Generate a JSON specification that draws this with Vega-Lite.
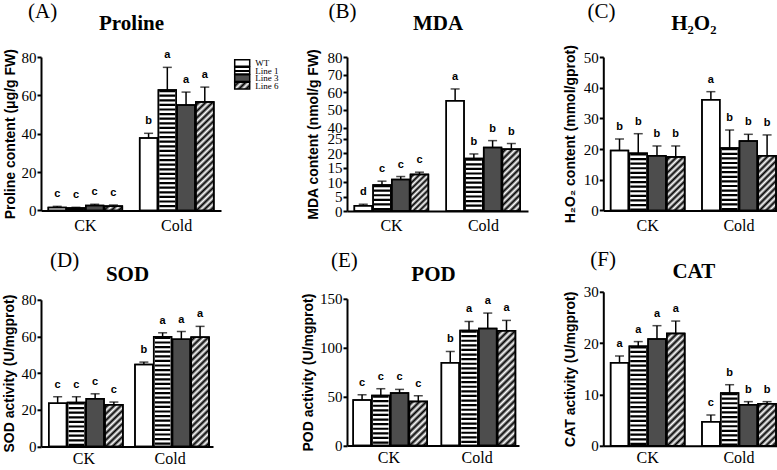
{
"$schema": "https://vega.github.io/schema/vega-lite/v6.json",
"background": "white",
"padding": {"left": 1, "top": 1, "right": 0, "bottom": 0},
"datasets": {"d": [
{"panel":"A","group":"CK","line":"WT","value":1.5,"hi":2.1,"letter":"c"},
{"panel":"A","group":"CK","line":"Line 1","value":1.2,"hi":1.6,"letter":"c"},
{"panel":"A","group":"CK","line":"Line 3","value":2.5,"hi":3.2,"letter":"c"},
{"panel":"A","group":"CK","line":"Line 6","value":2.1,"hi":2.8,"letter":"c"},
{"panel":"A","group":"Cold","line":"WT","value":37.7,"hi":40.2,"letter":"b"},
{"panel":"A","group":"Cold","line":"Line 1","value":62.8,"hi":74.6,"letter":"a"},
{"panel":"A","group":"Cold","line":"Line 3","value":55.0,"hi":61.7,"letter":"a"},
{"panel":"A","group":"Cold","line":"Line 6","value":56.5,"hi":64.3,"letter":"a"},
{"panel":"B","group":"CK","line":"WT","value":1.8,"hi":2.3,"letter":"d"},
{"panel":"B","group":"CK","line":"Line 1","value":9.0,"hi":10.3,"letter":"c"},
{"panel":"B","group":"CK","line":"Line 3","value":10.9,"hi":11.9,"letter":"c"},
{"panel":"B","group":"CK","line":"Line 6","value":12.6,"hi":13.4,"letter":"c"},
{"panel":"B","group":"Cold","line":"WT","value":55.2,"hi":61.9,"letter":"a"},
{"panel":"B","group":"Cold","line":"Line 1","value":18.1,"hi":19.7,"letter":"b"},
{"panel":"B","group":"Cold","line":"Line 3","value":21.9,"hi":24.3,"letter":"b"},
{"panel":"B","group":"Cold","line":"Line 6","value":21.3,"hi":23.3,"letter":"b"},
{"panel":"C","group":"CK","line":"WT","value":19.5,"hi":23.3,"letter":"b"},
{"panel":"C","group":"CK","line":"Line 1","value":18.6,"hi":25.0,"letter":"b"},
{"panel":"C","group":"CK","line":"Line 3","value":17.8,"hi":21.0,"letter":"b"},
{"panel":"C","group":"CK","line":"Line 6","value":17.4,"hi":21.0,"letter":"b"},
{"panel":"C","group":"Cold","line":"WT","value":36.1,"hi":38.7,"letter":"a"},
{"panel":"C","group":"Cold","line":"Line 1","value":20.3,"hi":26.2,"letter":"b"},
{"panel":"C","group":"Cold","line":"Line 3","value":22.6,"hi":24.8,"letter":"b"},
{"panel":"C","group":"Cold","line":"Line 6","value":17.8,"hi":24.6,"letter":"b"},
{"panel":"D","group":"CK","line":"WT","value":23.5,"hi":27.1,"letter":"c"},
{"panel":"D","group":"CK","line":"Line 1","value":24.0,"hi":27.1,"letter":"c"},
{"panel":"D","group":"CK","line":"Line 3","value":26.0,"hi":28.7,"letter":"c"},
{"panel":"D","group":"CK","line":"Line 6","value":22.7,"hi":24.2,"letter":"c"},
{"panel":"D","group":"Cold","line":"WT","value":44.7,"hi":46.0,"letter":"b"},
{"panel":"D","group":"Cold","line":"Line 1","value":59.8,"hi":62.0,"letter":"a"},
{"panel":"D","group":"Cold","line":"Line 3","value":58.5,"hi":62.7,"letter":"a"},
{"panel":"D","group":"Cold","line":"Line 6","value":59.5,"hi":65.5,"letter":"a"},
{"panel":"E","group":"CK","line":"WT","value":46.4,"hi":51.8,"letter":"c"},
{"panel":"E","group":"CK","line":"Line 1","value":51.1,"hi":58.0,"letter":"c"},
{"panel":"E","group":"CK","line":"Line 3","value":53.5,"hi":57.3,"letter":"c"},
{"panel":"E","group":"CK","line":"Line 6","value":45.0,"hi":50.8,"letter":"c"},
{"panel":"E","group":"Cold","line":"WT","value":84.6,"hi":96.1,"letter":"b"},
{"panel":"E","group":"Cold","line":"Line 1","value":117.6,"hi":126.8,"letter":"a"},
{"panel":"E","group":"Cold","line":"Line 3","value":119.7,"hi":135.4,"letter":"a"},
{"panel":"E","group":"Cold","line":"Line 6","value":117.3,"hi":127.9,"letter":"a"},
{"panel":"F","group":"CK","line":"WT","value":16.2,"hi":17.5,"letter":"a"},
{"panel":"F","group":"CK","line":"Line 1","value":19.4,"hi":20.3,"letter":"a"},
{"panel":"F","group":"CK","line":"Line 3","value":20.8,"hi":23.4,"letter":"a"},
{"panel":"F","group":"CK","line":"Line 6","value":21.9,"hi":24.3,"letter":"a"},
{"panel":"F","group":"Cold","line":"WT","value":4.7,"hi":6.0,"letter":"c"},
{"panel":"F","group":"Cold","line":"Line 1","value":10.3,"hi":11.9,"letter":"b"},
{"panel":"F","group":"Cold","line":"Line 3","value":8.0,"hi":8.6,"letter":"b"},
{"panel":"F","group":"Cold","line":"Line 6","value":8.2,"hi":8.6,"letter":"b"}
]},
"data": {"name": "d"},
"config": {
  "view": {"stroke": null},
  "title": {"anchor": "start", "frame": "group", "font": "Liberation Serif", "fontSize": 21, "fontWeight": "normal", "color": "black"},
  "axis": {"grid": false, "domainColor": "black", "domainWidth": 2, "tickColor": "black", "tickWidth": 2, "labelColor": "black", "titleColor": "black", "labelFont": "Liberation Serif"}
},
"spacing": 34.3,
"hconcat": [
{"spacing": 23, "hconcat": [
 {"spacing": 14.8, "vconcat": [
  {"spacing": 12.7, "hconcat": [
   {"width": 180, "height": 153.4,
    "title": {"text": "(A)", "dx": -13, "offset": -9.6},
    "transform": [{"filter": "datum.panel === 'A'"}],
    "resolve": {"axis": {"x": "independent", "y": "independent"}},
    "layer": [
     {"mark": {"type": "bar", "stroke": "black", "strokeWidth": 1.5},
      "encoding": {
       "x": {"field": "group", "type": "nominal", "title": null, "scale": {"domain": ["CK","Cold"], "paddingInner": 0.19, "paddingOuter": 0.08}, "axis": {"orient": "bottom", "domain": true, "domainColor": "black", "domainWidth": 2, "ticks": false, "tickSize": 0, "labelAngle": 0, "labelPadding": 6.7, "labelFont": "Liberation Serif", "labelFontSize": 16, "labelColor": "black"}},
       "xOffset": {"field": "line", "type": "nominal", "scale": {"domain": ["WT","Line 1","Line 3","Line 6"], "paddingInner": 0.05, "paddingOuter": 0}},
       "y": {"field": "value", "type": "quantitative", "scale": {"domain": [0, 80], "nice": false, "zero": false}, "axis": {"orient": "left", "title": "Proline content (μg/g FW)", "values": [0,20,40,60,80], "titlePadding": 2, "minExtent": 22, "maxExtent": 22, "titleFont": "Liberation Sans", "titleFontSize": 14, "titleFontWeight": "bold", "titleColor": "black", "labelFont": "Liberation Serif", "labelFontSize": 15, "labelColor": "black", "labelPadding": 1, "labelOverlap": false, "tickSize": 4, "tickWidth": 2, "tickColor": "black", "domain": true, "domainColor": "black", "domainWidth": 2, "grid": false}},
       "fill": {"field": "line", "type": "nominal", "scale": {"domain": ["WT","Line 1","Line 3","Line 6"], "range": ["#ffffff","#ffffff","#4d4d4d","#ffffff"]}, "legend": null}
      }},
     {"transform": [{"filter": "datum.line === 'Line 1'"}],
      "mark": {"type": "rule", "strokeWidth": 16, "strokeDash": [2.2, 2.4], "strokeCap": "butt", "color": "black"},
      "encoding": {"x": {"field": "group", "type": "nominal", "axis": null}, "xOffset": {"field": "line", "type": "nominal"}, "y": {"field": "value", "type": "quantitative", "axis": null}, "y2": {"datum": 0}}},
     {"transform": [{"filter": "datum.line === 'Line 6'"}],
      "mark": {"type": "bar", "stroke": "black", "strokeWidth": 1.5},
      "encoding": {"x": {"field": "group", "type": "nominal", "axis": null}, "xOffset": {"field": "line", "type": "nominal"}, "y": {"field": "value", "type": "quantitative", "axis": null},
       "fill": {"condition": {"test": "datum.group === 'CK'", "value": {"gradient": "linear", "x1": 0, "y1": 0, "x2": 1.17, "y2": 0.27, "stops": [{"offset":0,"color":"#fff"},{"offset":0.167,"color":"#000"},{"offset":0.333,"color":"#fff"},{"offset":0.5,"color":"#000"},{"offset":0.667,"color":"#fff"},{"offset":0.833,"color":"#000"},{"offset":1,"color":"#fff"}]}},
        "value": {"gradient": "linear", "x1": 0, "y1": 0, "x2": 0.18, "y2": 1.13, "stops": [{"offset":0,"color":"#fff"},{"offset":0.026,"color":"#000"},{"offset":0.053,"color":"#fff"},{"offset":0.079,"color":"#000"},{"offset":0.105,"color":"#fff"},{"offset":0.132,"color":"#000"},{"offset":0.158,"color":"#fff"},{"offset":0.184,"color":"#000"},{"offset":0.211,"color":"#fff"},{"offset":0.237,"color":"#000"},{"offset":0.263,"color":"#fff"},{"offset":0.289,"color":"#000"},{"offset":0.316,"color":"#fff"},{"offset":0.342,"color":"#000"},{"offset":0.368,"color":"#fff"},{"offset":0.395,"color":"#000"},{"offset":0.421,"color":"#fff"},{"offset":0.447,"color":"#000"},{"offset":0.474,"color":"#fff"},{"offset":0.5,"color":"#000"},{"offset":0.526,"color":"#fff"},{"offset":0.553,"color":"#000"},{"offset":0.579,"color":"#fff"},{"offset":0.605,"color":"#000"},{"offset":0.632,"color":"#fff"},{"offset":0.658,"color":"#000"},{"offset":0.684,"color":"#fff"},{"offset":0.711,"color":"#000"},{"offset":0.737,"color":"#fff"},{"offset":0.763,"color":"#000"},{"offset":0.789,"color":"#fff"},{"offset":0.816,"color":"#000"},{"offset":0.842,"color":"#fff"},{"offset":0.868,"color":"#000"},{"offset":0.895,"color":"#fff"},{"offset":0.921,"color":"#000"},{"offset":0.947,"color":"#fff"},{"offset":0.974,"color":"#000"},{"offset":1,"color":"#fff"}]}}}},
     {"mark": {"type": "bar", "fillOpacity": 0, "stroke": "black", "strokeWidth": 1.5},
      "encoding": {"x": {"field": "group", "type": "nominal", "axis": null}, "xOffset": {"field": "line", "type": "nominal"}, "y": {"field": "value", "type": "quantitative", "axis": null}}},
     {"mark": {"type": "rule", "strokeWidth": 1.5, "color": "black"},
      "encoding": {"x": {"field": "group", "type": "nominal", "axis": null}, "xOffset": {"field": "line", "type": "nominal"}, "y": {"field": "value", "type": "quantitative", "axis": null}, "y2": {"field": "hi"}}},
     {"mark": {"type": "tick", "size": 9, "thickness": 1.5, "color": "black"},
      "encoding": {"x": {"field": "group", "type": "nominal", "axis": null}, "xOffset": {"field": "line", "type": "nominal"}, "y": {"field": "hi", "type": "quantitative", "axis": null}}},
     {"mark": {"type": "text", "dy": -9, "baseline": "alphabetic", "font": "Liberation Sans", "fontWeight": "bold", "fontSize": 11, "color": "black"},
      "encoding": {"x": {"field": "group", "type": "nominal", "axis": {"orient": "top", "title": "Proline", "titlePadding": 23.6, "labels": false, "ticks": false, "domain": false, "grid": false, "titleFont": "Liberation Serif", "titleFontSize": 21, "titleFontWeight": "bold", "titleColor": "black", "minExtent": 0, "maxExtent": 0}}, "xOffset": {"field": "line", "type": "nominal"}, "y": {"field": "hi", "type": "quantitative", "axis": null}, "text": {"field": "letter"}}}
    ]},
   {"width": 15, "height": 36,
    "transform": [{"filter": "datum.panel === 'A' && datum.group === 'CK'"}],
    "mark": {"type": "bar", "stroke": "black", "strokeWidth": 1.5},
    "encoding": {
     "y": {"field": "line", "type": "nominal", "title": null, "sort": ["WT","Line 1","Line 3","Line 6"], "scale": {"domain": ["WT","Line 1","Line 3","Line 6"], "range": [2.2, 32.5], "paddingInner": 0.115, "paddingOuter": 0.0575}, "axis": {"orient": "right", "domain": false, "ticks": false, "grid": false, "labelPadding": 5, "labelFont": "Liberation Serif", "labelFontSize": 9, "labelColor": "black", "labelOverlap": false}},
     "fill": {"condition": [
       {"test": "datum.line === 'Line 1'", "value": {"gradient": "linear", "x1": 0, "y1": 0, "x2": 0, "y2": 1, "stops": [{"offset": 0, "color": "#fff"}, {"offset": 0.36, "color": "#fff"}, {"offset": 0.36, "color": "#000"}, {"offset": 0.64, "color": "#000"}, {"offset": 0.64, "color": "#fff"}, {"offset": 1, "color": "#fff"}]}},
       {"test": "datum.line === 'Line 6'", "value": {"gradient": "linear", "x1": 0, "y1": 0, "x2": 1.206, "y2": 0.543, "stops": [{"offset":0,"color":"#fff"},{"offset":0.167,"color":"#000"},{"offset":0.333,"color":"#fff"},{"offset":0.5,"color":"#000"},{"offset":0.667,"color":"#fff"},{"offset":0.833,"color":"#000"},{"offset":1,"color":"#fff"}]}},
       {"test": "datum.line === 'Line 3'", "value": "#4d4d4d"}
     ], "value": "#ffffff"}
    }}
  ]},
  {"width": 172, "height": 146.6,
   "title": {"text": "(D)", "dx": 9, "offset": -7.5},
   "transform": [{"filter": "datum.panel === 'D'"}],
   "resolve": {"axis": {"x": "independent", "y": "independent"}},
   "layer": [
    {"mark": {"type": "bar", "stroke": "black", "strokeWidth": 1.5},
     "encoding": {
      "x": {"field": "group", "type": "nominal", "title": null, "scale": {"domain": ["CK","Cold"], "paddingInner": 0.185, "paddingOuter": 0.09}, "axis": {"orient": "bottom", "domain": true, "domainColor": "black", "domainWidth": 2, "ticks": false, "tickSize": 0, "labelAngle": 0, "labelPadding": 4, "labelFont": "Liberation Serif", "labelFontSize": 16, "labelColor": "black"}},
      "xOffset": {"field": "line", "type": "nominal", "scale": {"domain": ["WT","Line 1","Line 3","Line 6"], "paddingInner": 0.05, "paddingOuter": 0}},
      "y": {"field": "value", "type": "quantitative", "scale": {"domain": [0, 80], "nice": false, "zero": false}, "axis": {"orient": "left", "title": "SOD activity (U/mgprot)", "values": [0,20,40,60,80], "titlePadding": 3, "minExtent": 22, "maxExtent": 22, "titleFont": "Liberation Sans", "titleFontSize": 14, "titleFontWeight": "bold", "titleColor": "black", "labelFont": "Liberation Serif", "labelFontSize": 15, "labelColor": "black", "labelPadding": 1, "labelOverlap": false, "tickSize": 4, "tickWidth": 2, "tickColor": "black", "domain": true, "domainColor": "black", "domainWidth": 2, "grid": false}},
      "fill": {"field": "line", "type": "nominal", "scale": {"domain": ["WT","Line 1","Line 3","Line 6"], "range": ["#ffffff","#ffffff","#4d4d4d","#ffffff"]}, "legend": null}
     }},
    {"transform": [{"filter": "datum.line === 'Line 1'"}],
     "mark": {"type": "rule", "strokeWidth": 15.5, "strokeDash": [2.2, 2.4], "strokeCap": "butt", "color": "black"},
     "encoding": {"x": {"field": "group", "type": "nominal", "axis": null}, "xOffset": {"field": "line", "type": "nominal"}, "y": {"field": "value", "type": "quantitative", "axis": null}, "y2": {"datum": 0}}},
    {"transform": [{"filter": "datum.line === 'Line 6'"}],
     "mark": {"type": "bar", "stroke": "black", "strokeWidth": 1.5},
     "encoding": {"x": {"field": "group", "type": "nominal", "axis": null}, "xOffset": {"field": "line", "type": "nominal"}, "y": {"field": "value", "type": "quantitative", "axis": null},
      "fill": {"condition": {"test": "datum.group === 'CK'", "value": {"gradient": "linear", "x1": 0, "y1": 0, "x2": 0.5, "y2": 1.205, "stops": [{"offset":0,"color":"#fff"},{"offset":0.056,"color":"#000"},{"offset":0.111,"color":"#fff"},{"offset":0.167,"color":"#000"},{"offset":0.222,"color":"#fff"},{"offset":0.278,"color":"#000"},{"offset":0.333,"color":"#fff"},{"offset":0.389,"color":"#000"},{"offset":0.444,"color":"#fff"},{"offset":0.5,"color":"#000"},{"offset":0.556,"color":"#fff"},{"offset":0.611,"color":"#000"},{"offset":0.667,"color":"#fff"},{"offset":0.722,"color":"#000"},{"offset":0.778,"color":"#fff"},{"offset":0.833,"color":"#000"},{"offset":0.889,"color":"#fff"},{"offset":0.944,"color":"#000"},{"offset":1,"color":"#fff"}]}},
       "value": {"gradient": "linear", "x1": 0, "y1": 0, "x2": 0.18, "y2": 1.13, "stops": [{"offset":0,"color":"#fff"},{"offset":0.026,"color":"#000"},{"offset":0.053,"color":"#fff"},{"offset":0.079,"color":"#000"},{"offset":0.105,"color":"#fff"},{"offset":0.132,"color":"#000"},{"offset":0.158,"color":"#fff"},{"offset":0.184,"color":"#000"},{"offset":0.211,"color":"#fff"},{"offset":0.237,"color":"#000"},{"offset":0.263,"color":"#fff"},{"offset":0.289,"color":"#000"},{"offset":0.316,"color":"#fff"},{"offset":0.342,"color":"#000"},{"offset":0.368,"color":"#fff"},{"offset":0.395,"color":"#000"},{"offset":0.421,"color":"#fff"},{"offset":0.447,"color":"#000"},{"offset":0.474,"color":"#fff"},{"offset":0.5,"color":"#000"},{"offset":0.526,"color":"#fff"},{"offset":0.553,"color":"#000"},{"offset":0.579,"color":"#fff"},{"offset":0.605,"color":"#000"},{"offset":0.632,"color":"#fff"},{"offset":0.658,"color":"#000"},{"offset":0.684,"color":"#fff"},{"offset":0.711,"color":"#000"},{"offset":0.737,"color":"#fff"},{"offset":0.763,"color":"#000"},{"offset":0.789,"color":"#fff"},{"offset":0.816,"color":"#000"},{"offset":0.842,"color":"#fff"},{"offset":0.868,"color":"#000"},{"offset":0.895,"color":"#fff"},{"offset":0.921,"color":"#000"},{"offset":0.947,"color":"#fff"},{"offset":0.974,"color":"#000"},{"offset":1,"color":"#fff"}]}}}},
    {"mark": {"type": "bar", "fillOpacity": 0, "stroke": "black", "strokeWidth": 1.5},
     "encoding": {"x": {"field": "group", "type": "nominal", "axis": null}, "xOffset": {"field": "line", "type": "nominal"}, "y": {"field": "value", "type": "quantitative", "axis": null}}},
    {"mark": {"type": "rule", "strokeWidth": 1.5, "color": "black"},
     "encoding": {"x": {"field": "group", "type": "nominal", "axis": null}, "xOffset": {"field": "line", "type": "nominal"}, "y": {"field": "value", "type": "quantitative", "axis": null}, "y2": {"field": "hi"}}},
    {"mark": {"type": "tick", "size": 9, "thickness": 1.5, "color": "black"},
     "encoding": {"x": {"field": "group", "type": "nominal", "axis": null}, "xOffset": {"field": "line", "type": "nominal"}, "y": {"field": "hi", "type": "quantitative", "axis": null}}},
    {"mark": {"type": "text", "dy": -9, "baseline": "alphabetic", "font": "Liberation Sans", "fontWeight": "bold", "fontSize": 11, "color": "black"},
     "encoding": {"x": {"field": "group", "type": "nominal", "axis": {"orient": "top", "title": "SOD", "titlePadding": 15.6, "labels": false, "ticks": false, "domain": false, "grid": false, "titleFont": "Liberation Serif", "titleFontSize": 21, "titleFontWeight": "bold", "titleColor": "black", "minExtent": 0, "maxExtent": 0}}, "xOffset": {"field": "line", "type": "nominal"}, "y": {"field": "hi", "type": "quantitative", "axis": null}, "text": {"field": "letter"}}}
   ]}
 ]},
 {"spacing": 14.8, "vconcat": [
  {"width": 181, "height": 154,
   "title": {"text": "(B)", "dx": -18.4, "offset": -9.6},
   "transform": [{"filter": "datum.panel === 'B'"}],
   "resolve": {"axis": {"x": "independent", "y": "independent"}},
   "layer": [
    {"mark": {"type": "bar", "stroke": "black", "strokeWidth": 1.5},
     "encoding": {
      "x": {"field": "group", "type": "nominal", "title": null, "scale": {"domain": ["CK","Cold"], "paddingInner": 0.19, "paddingOuter": 0.08}, "axis": {"orient": "bottom", "domain": true, "domainColor": "black", "domainWidth": 2, "ticks": false, "tickSize": 0, "labelAngle": 0, "labelPadding": 6.7, "labelFont": "Liberation Serif", "labelFontSize": 16, "labelColor": "black"}},
      "xOffset": {"field": "line", "type": "nominal", "scale": {"domain": ["WT","Line 1","Line 3","Line 6"], "paddingInner": 0.05, "paddingOuter": 0}},
      "y": {"field": "value", "type": "quantitative", "scale": {"domain": [0, 25, 40, 80], "range": [154, 81.6, 70.6, 0], "nice": false, "zero": false}, "axis": {"orient": "left", "title": "MDA content (nmol/g FW)", "values": [0,5,10,15,20,25,40,50,60,70,80], "titlePadding": 4.7, "minExtent": 22, "maxExtent": 22, "titleFont": "Liberation Sans", "titleFontSize": 14, "titleFontWeight": "bold", "titleColor": "black", "labelFont": "Liberation Serif", "labelFontSize": 15, "labelColor": "black", "labelPadding": 1, "labelOverlap": false, "tickSize": 4, "tickWidth": 2, "tickColor": "black", "domain": true, "domainColor": "black", "domainWidth": 2, "grid": false}},
      "fill": {"field": "line", "type": "nominal", "scale": {"domain": ["WT","Line 1","Line 3","Line 6"], "range": ["#ffffff","#ffffff","#4d4d4d","#ffffff"]}, "legend": null}
     }},
    {"transform": [{"filter": "datum.line === 'Line 1'"}],
     "mark": {"type": "rule", "strokeWidth": 16, "strokeDash": [2.2, 2.4], "strokeCap": "butt", "color": "black"},
     "encoding": {"x": {"field": "group", "type": "nominal", "axis": null}, "xOffset": {"field": "line", "type": "nominal"}, "y": {"field": "value", "type": "quantitative", "axis": null}, "y2": {"datum": 0}}},
    {"transform": [{"filter": "datum.line === 'Line 6'"}],
     "mark": {"type": "bar", "stroke": "black", "strokeWidth": 1.5},
     "encoding": {"x": {"field": "group", "type": "nominal", "axis": null}, "xOffset": {"field": "line", "type": "nominal"}, "y": {"field": "value", "type": "quantitative", "axis": null},
      "fill": {"condition": {"test": "datum.group === 'CK'", "value": {"gradient": "linear", "x1": 0, "y1": 0, "x2": 0.577, "y2": 1.203, "stops": [{"offset":0,"color":"#fff"},{"offset":0.056,"color":"#000"},{"offset":0.111,"color":"#fff"},{"offset":0.167,"color":"#000"},{"offset":0.222,"color":"#fff"},{"offset":0.278,"color":"#000"},{"offset":0.333,"color":"#fff"},{"offset":0.389,"color":"#000"},{"offset":0.444,"color":"#fff"},{"offset":0.5,"color":"#000"},{"offset":0.556,"color":"#fff"},{"offset":0.611,"color":"#000"},{"offset":0.667,"color":"#fff"},{"offset":0.722,"color":"#000"},{"offset":0.778,"color":"#fff"},{"offset":0.833,"color":"#000"},{"offset":0.889,"color":"#fff"},{"offset":0.944,"color":"#000"},{"offset":1,"color":"#fff"}]}},
       "value": {"gradient": "linear", "x1": 0, "y1": 0, "x2": 0.34, "y2": 1.19, "stops": [{"offset":0,"color":"#fff"},{"offset":0.042,"color":"#000"},{"offset":0.083,"color":"#fff"},{"offset":0.125,"color":"#000"},{"offset":0.167,"color":"#fff"},{"offset":0.208,"color":"#000"},{"offset":0.25,"color":"#fff"},{"offset":0.292,"color":"#000"},{"offset":0.333,"color":"#fff"},{"offset":0.375,"color":"#000"},{"offset":0.417,"color":"#fff"},{"offset":0.458,"color":"#000"},{"offset":0.5,"color":"#fff"},{"offset":0.542,"color":"#000"},{"offset":0.583,"color":"#fff"},{"offset":0.625,"color":"#000"},{"offset":0.667,"color":"#fff"},{"offset":0.708,"color":"#000"},{"offset":0.75,"color":"#fff"},{"offset":0.792,"color":"#000"},{"offset":0.833,"color":"#fff"},{"offset":0.875,"color":"#000"},{"offset":0.917,"color":"#fff"},{"offset":0.958,"color":"#000"},{"offset":1,"color":"#fff"}]}}}},
    {"mark": {"type": "bar", "fillOpacity": 0, "stroke": "black", "strokeWidth": 1.5},
     "encoding": {"x": {"field": "group", "type": "nominal", "axis": null}, "xOffset": {"field": "line", "type": "nominal"}, "y": {"field": "value", "type": "quantitative", "axis": null}}},
    {"mark": {"type": "rule", "strokeWidth": 1.5, "color": "black"},
     "encoding": {"x": {"field": "group", "type": "nominal", "axis": null}, "xOffset": {"field": "line", "type": "nominal"}, "y": {"field": "value", "type": "quantitative", "axis": null}, "y2": {"field": "hi"}}},
    {"mark": {"type": "tick", "size": 9, "thickness": 1.5, "color": "black"},
     "encoding": {"x": {"field": "group", "type": "nominal", "axis": null}, "xOffset": {"field": "line", "type": "nominal"}, "y": {"field": "hi", "type": "quantitative", "axis": null}}},
    {"mark": {"type": "text", "dy": -9, "baseline": "alphabetic", "font": "Liberation Sans", "fontWeight": "bold", "fontSize": 11, "color": "black"},
     "encoding": {"x": {"field": "group", "type": "nominal", "axis": {"orient": "top", "title": "MDA", "titlePadding": 23.6, "labels": false, "ticks": false, "domain": false, "grid": false, "titleFont": "Liberation Serif", "titleFontSize": 21, "titleFontWeight": "bold", "titleColor": "black", "minExtent": 0, "maxExtent": 0}}, "xOffset": {"field": "line", "type": "nominal"}, "y": {"field": "hi", "type": "quantitative", "axis": null}, "text": {"field": "letter"}}}
   ]},
  {"width": 172, "height": 146.6,
   "title": {"text": "(E)", "dx": -16, "offset": -7.5},
   "transform": [{"filter": "datum.panel === 'E'"}],
   "resolve": {"axis": {"x": "independent", "y": "independent"}},
   "layer": [
    {"mark": {"type": "bar", "stroke": "black", "strokeWidth": 1.5},
     "encoding": {
      "x": {"field": "group", "type": "nominal", "title": null, "scale": {"domain": ["CK","Cold"], "paddingInner": 0.19, "paddingOuter": 0.07}, "axis": {"orient": "bottom", "domain": true, "domainColor": "black", "domainWidth": 2, "ticks": false, "tickSize": 0, "labelAngle": 0, "labelPadding": 4, "labelFont": "Liberation Serif", "labelFontSize": 16, "labelColor": "black"}},
      "xOffset": {"field": "line", "type": "nominal", "scale": {"domain": ["WT","Line 1","Line 3","Line 6"], "paddingInner": 0.05, "paddingOuter": 0}},
      "y": {"field": "value", "type": "quantitative", "scale": {"domain": [0, 150], "nice": false, "zero": false}, "axis": {"orient": "left", "title": "POD activity (U/mgprot)", "values": [0,50,100,150], "titlePadding": 4.7, "minExtent": 27, "maxExtent": 27, "titleFont": "Liberation Sans", "titleFontSize": 14, "titleFontWeight": "bold", "titleColor": "black", "labelFont": "Liberation Serif", "labelFontSize": 15, "labelColor": "black", "labelPadding": 1, "labelOverlap": false, "tickSize": 4, "tickWidth": 2, "tickColor": "black", "domain": true, "domainColor": "black", "domainWidth": 2, "grid": false}},
      "fill": {"field": "line", "type": "nominal", "scale": {"domain": ["WT","Line 1","Line 3","Line 6"], "range": ["#ffffff","#ffffff","#4d4d4d","#ffffff"]}, "legend": null}
     }},
    {"transform": [{"filter": "datum.line === 'Line 1'"}],
     "mark": {"type": "rule", "strokeWidth": 15.5, "strokeDash": [2.2, 2.4], "strokeCap": "butt", "color": "black"},
     "encoding": {"x": {"field": "group", "type": "nominal", "axis": null}, "xOffset": {"field": "line", "type": "nominal"}, "y": {"field": "value", "type": "quantitative", "axis": null}, "y2": {"datum": 0}}},
    {"transform": [{"filter": "datum.line === 'Line 6'"}],
     "mark": {"type": "bar", "stroke": "black", "strokeWidth": 1.5},
     "encoding": {"x": {"field": "group", "type": "nominal", "axis": null}, "xOffset": {"field": "line", "type": "nominal"}, "y": {"field": "value", "type": "quantitative", "axis": null},
      "fill": {"condition": {"test": "datum.group === 'CK'", "value": {"gradient": "linear", "x1": 0, "y1": 0, "x2": 0.48, "y2": 1.207, "stops": [{"offset":0,"color":"#fff"},{"offset":0.056,"color":"#000"},{"offset":0.111,"color":"#fff"},{"offset":0.167,"color":"#000"},{"offset":0.222,"color":"#fff"},{"offset":0.278,"color":"#000"},{"offset":0.333,"color":"#fff"},{"offset":0.389,"color":"#000"},{"offset":0.444,"color":"#fff"},{"offset":0.5,"color":"#000"},{"offset":0.556,"color":"#fff"},{"offset":0.611,"color":"#000"},{"offset":0.667,"color":"#fff"},{"offset":0.722,"color":"#000"},{"offset":0.778,"color":"#fff"},{"offset":0.833,"color":"#000"},{"offset":0.889,"color":"#fff"},{"offset":0.944,"color":"#000"},{"offset":1,"color":"#fff"}]}},
       "value": {"gradient": "linear", "x1": 0, "y1": 0, "x2": 0.172, "y2": 1.127, "stops": [{"offset":0,"color":"#fff"},{"offset":0.026,"color":"#000"},{"offset":0.053,"color":"#fff"},{"offset":0.079,"color":"#000"},{"offset":0.105,"color":"#fff"},{"offset":0.132,"color":"#000"},{"offset":0.158,"color":"#fff"},{"offset":0.184,"color":"#000"},{"offset":0.211,"color":"#fff"},{"offset":0.237,"color":"#000"},{"offset":0.263,"color":"#fff"},{"offset":0.289,"color":"#000"},{"offset":0.316,"color":"#fff"},{"offset":0.342,"color":"#000"},{"offset":0.368,"color":"#fff"},{"offset":0.395,"color":"#000"},{"offset":0.421,"color":"#fff"},{"offset":0.447,"color":"#000"},{"offset":0.474,"color":"#fff"},{"offset":0.5,"color":"#000"},{"offset":0.526,"color":"#fff"},{"offset":0.553,"color":"#000"},{"offset":0.579,"color":"#fff"},{"offset":0.605,"color":"#000"},{"offset":0.632,"color":"#fff"},{"offset":0.658,"color":"#000"},{"offset":0.684,"color":"#fff"},{"offset":0.711,"color":"#000"},{"offset":0.737,"color":"#fff"},{"offset":0.763,"color":"#000"},{"offset":0.789,"color":"#fff"},{"offset":0.816,"color":"#000"},{"offset":0.842,"color":"#fff"},{"offset":0.868,"color":"#000"},{"offset":0.895,"color":"#fff"},{"offset":0.921,"color":"#000"},{"offset":0.947,"color":"#fff"},{"offset":0.974,"color":"#000"},{"offset":1,"color":"#fff"}]}}}},
    {"mark": {"type": "bar", "fillOpacity": 0, "stroke": "black", "strokeWidth": 1.5},
     "encoding": {"x": {"field": "group", "type": "nominal", "axis": null}, "xOffset": {"field": "line", "type": "nominal"}, "y": {"field": "value", "type": "quantitative", "axis": null}}},
    {"mark": {"type": "rule", "strokeWidth": 1.5, "color": "black"},
     "encoding": {"x": {"field": "group", "type": "nominal", "axis": null}, "xOffset": {"field": "line", "type": "nominal"}, "y": {"field": "value", "type": "quantitative", "axis": null}, "y2": {"field": "hi"}}},
    {"mark": {"type": "tick", "size": 9, "thickness": 1.5, "color": "black"},
     "encoding": {"x": {"field": "group", "type": "nominal", "axis": null}, "xOffset": {"field": "line", "type": "nominal"}, "y": {"field": "hi", "type": "quantitative", "axis": null}}},
    {"mark": {"type": "text", "dy": -9, "baseline": "alphabetic", "font": "Liberation Sans", "fontWeight": "bold", "fontSize": 11, "color": "black"},
     "encoding": {"x": {"field": "group", "type": "nominal", "axis": {"orient": "top", "title": "POD", "titlePadding": 14.6, "labels": false, "ticks": false, "domain": false, "grid": false, "titleFont": "Liberation Serif", "titleFontSize": 21, "titleFontWeight": "bold", "titleColor": "black", "minExtent": 0, "maxExtent": 0}}, "xOffset": {"field": "line", "type": "nominal"}, "y": {"field": "hi", "type": "quantitative", "axis": null}, "text": {"field": "letter"}}}
   ]}
 ]}
]},
{"spacing": 14.8, "vconcat": [
 {"width": 180, "height": 153.4,
  "title": {"text": "(C)", "dx": -15.7, "offset": -9.6},
  "transform": [{"filter": "datum.panel === 'C'"}],
  "resolve": {"axis": {"x": "independent", "y": "independent"}},
  "layer": [
   {"mark": {"type": "bar", "stroke": "black", "strokeWidth": 1.5},
    "encoding": {
     "x": {"field": "group", "type": "nominal", "title": null, "scale": {"domain": ["CK","Cold"], "paddingInner": 0.19, "paddingOuter": 0.08}, "axis": {"orient": "bottom", "domain": true, "domainColor": "black", "domainWidth": 2, "ticks": false, "tickSize": 0, "labelAngle": 0, "labelPadding": 6.7, "labelFont": "Liberation Serif", "labelFontSize": 16, "labelColor": "black"}},
     "xOffset": {"field": "line", "type": "nominal", "scale": {"domain": ["WT","Line 1","Line 3","Line 6"], "paddingInner": 0.05, "paddingOuter": 0}},
     "y": {"field": "value", "type": "quantitative", "scale": {"domain": [0, 50], "nice": false, "zero": false}, "axis": {"orient": "left", "title": "H₂O₂ content (mmol/gprot)", "values": [0,10,20,30,40,50], "titlePadding": 4, "minExtent": 22, "maxExtent": 22, "titleFont": "Liberation Sans", "titleFontSize": 14, "titleFontWeight": "bold", "titleColor": "black", "labelFont": "Liberation Serif", "labelFontSize": 15, "labelColor": "black", "labelPadding": 1, "labelOverlap": false, "tickSize": 4, "tickWidth": 2, "tickColor": "black", "domain": true, "domainColor": "black", "domainWidth": 2, "grid": false}},
     "fill": {"field": "line", "type": "nominal", "scale": {"domain": ["WT","Line 1","Line 3","Line 6"], "range": ["#ffffff","#ffffff","#4d4d4d","#ffffff"]}, "legend": null}
    }},
   {"transform": [{"filter": "datum.line === 'Line 1'"}],
    "mark": {"type": "rule", "strokeWidth": 16, "strokeDash": [2.2, 2.4], "strokeCap": "butt", "color": "black"},
    "encoding": {"x": {"field": "group", "type": "nominal", "axis": null}, "xOffset": {"field": "line", "type": "nominal"}, "y": {"field": "value", "type": "quantitative", "axis": null}, "y2": {"datum": 0}}},
   {"transform": [{"filter": "datum.line === 'Line 6'"}],
    "mark": {"type": "bar", "stroke": "black", "strokeWidth": 1.5,
      "fill": {"gradient": "linear", "x1": 0, "y1": 0, "x2": 0.39, "y2": 1.2, "stops": [{"offset":0,"color":"#fff"},{"offset":0.045,"color":"#000"},{"offset":0.091,"color":"#fff"},{"offset":0.136,"color":"#000"},{"offset":0.182,"color":"#fff"},{"offset":0.227,"color":"#000"},{"offset":0.273,"color":"#fff"},{"offset":0.318,"color":"#000"},{"offset":0.364,"color":"#fff"},{"offset":0.409,"color":"#000"},{"offset":0.455,"color":"#fff"},{"offset":0.5,"color":"#000"},{"offset":0.545,"color":"#fff"},{"offset":0.591,"color":"#000"},{"offset":0.636,"color":"#fff"},{"offset":0.682,"color":"#000"},{"offset":0.727,"color":"#fff"},{"offset":0.773,"color":"#000"},{"offset":0.818,"color":"#fff"},{"offset":0.864,"color":"#000"},{"offset":0.909,"color":"#fff"},{"offset":0.955,"color":"#000"},{"offset":1,"color":"#fff"}]}},
    "encoding": {"x": {"field": "group", "type": "nominal", "axis": null}, "xOffset": {"field": "line", "type": "nominal"}, "y": {"field": "value", "type": "quantitative", "axis": null}}},
   {"mark": {"type": "bar", "fillOpacity": 0, "stroke": "black", "strokeWidth": 1.5},
    "encoding": {"x": {"field": "group", "type": "nominal", "axis": null}, "xOffset": {"field": "line", "type": "nominal"}, "y": {"field": "value", "type": "quantitative", "axis": null}}},
   {"mark": {"type": "rule", "strokeWidth": 1.5, "color": "black"},
    "encoding": {"x": {"field": "group", "type": "nominal", "axis": null}, "xOffset": {"field": "line", "type": "nominal"}, "y": {"field": "value", "type": "quantitative", "axis": null}, "y2": {"field": "hi"}}},
   {"mark": {"type": "tick", "size": 9, "thickness": 1.5, "color": "black"},
    "encoding": {"x": {"field": "group", "type": "nominal", "axis": null}, "xOffset": {"field": "line", "type": "nominal"}, "y": {"field": "hi", "type": "quantitative", "axis": null}}},
   {"mark": {"type": "text", "dy": -9, "baseline": "alphabetic", "font": "Liberation Sans", "fontWeight": "bold", "fontSize": 11, "color": "black"},
    "encoding": {"x": {"field": "group", "type": "nominal", "axis": {"orient": "top", "title": "H₂O₂", "titlePadding": 23.6, "labels": false, "ticks": false, "domain": false, "grid": false, "titleFont": "Liberation Serif", "titleFontSize": 21, "titleFontWeight": "bold", "titleColor": "black", "minExtent": 0, "maxExtent": 0}}, "xOffset": {"field": "line", "type": "nominal"}, "y": {"field": "hi", "type": "quantitative", "axis": null}, "text": {"field": "letter"}}}
  ]},
 {"width": 180, "height": 154,
  "title": {"text": "(F)", "dx": -13, "offset": -9.2},
  "transform": [{"filter": "datum.panel === 'F'"}],
  "resolve": {"axis": {"x": "independent", "y": "independent"}},
  "layer": [
   {"mark": {"type": "bar", "stroke": "black", "strokeWidth": 1.5},
    "encoding": {
     "x": {"field": "group", "type": "nominal", "title": null, "scale": {"domain": ["CK","Cold"], "paddingInner": 0.19, "paddingOuter": 0.08}, "axis": {"orient": "bottom", "domain": true, "domainColor": "black", "domainWidth": 2, "ticks": false, "tickSize": 0, "labelAngle": 0, "labelPadding": 4, "labelFont": "Liberation Serif", "labelFontSize": 16, "labelColor": "black"}},
     "xOffset": {"field": "line", "type": "nominal", "scale": {"domain": ["WT","Line 1","Line 3","Line 6"], "paddingInner": 0.05, "paddingOuter": 0}},
     "y": {"field": "value", "type": "quantitative", "scale": {"domain": [0, 30], "nice": false, "zero": false}, "axis": {"orient": "left", "title": "CAT activity (U/mgprot)", "values": [0,10,20,30], "titlePadding": 4, "minExtent": 22, "maxExtent": 22, "titleFont": "Liberation Sans", "titleFontSize": 14, "titleFontWeight": "bold", "titleColor": "black", "labelFont": "Liberation Serif", "labelFontSize": 15, "labelColor": "black", "labelPadding": 1, "labelOverlap": false, "tickSize": 4, "tickWidth": 2, "tickColor": "black", "domain": true, "domainColor": "black", "domainWidth": 2, "grid": false}},
     "fill": {"field": "line", "type": "nominal", "scale": {"domain": ["WT","Line 1","Line 3","Line 6"], "range": ["#ffffff","#ffffff","#4d4d4d","#ffffff"]}, "legend": null}
    }},
   {"transform": [{"filter": "datum.line === 'Line 1'"}],
    "mark": {"type": "rule", "strokeWidth": 16, "strokeDash": [2.2, 2.4], "strokeCap": "butt", "color": "black"},
    "encoding": {"x": {"field": "group", "type": "nominal", "axis": null}, "xOffset": {"field": "line", "type": "nominal"}, "y": {"field": "value", "type": "quantitative", "axis": null}, "y2": {"datum": 0}}},
   {"transform": [{"filter": "datum.line === 'Line 6'"}],
    "mark": {"type": "bar", "stroke": "black", "strokeWidth": 1.5},
    "encoding": {"x": {"field": "group", "type": "nominal", "axis": null}, "xOffset": {"field": "line", "type": "nominal"}, "y": {"field": "value", "type": "quantitative", "axis": null},
     "fill": {"condition": {"test": "datum.group === 'Cold'", "value": {"gradient": "linear", "x1": 0, "y1": 0, "x2": 0.5, "y2": 1.207, "stops": [{"offset":0,"color":"#fff"},{"offset":0.056,"color":"#000"},{"offset":0.111,"color":"#fff"},{"offset":0.167,"color":"#000"},{"offset":0.222,"color":"#fff"},{"offset":0.278,"color":"#000"},{"offset":0.333,"color":"#fff"},{"offset":0.389,"color":"#000"},{"offset":0.444,"color":"#fff"},{"offset":0.5,"color":"#000"},{"offset":0.556,"color":"#fff"},{"offset":0.611,"color":"#000"},{"offset":0.667,"color":"#fff"},{"offset":0.722,"color":"#000"},{"offset":0.778,"color":"#fff"},{"offset":0.833,"color":"#000"},{"offset":0.889,"color":"#fff"},{"offset":0.944,"color":"#000"},{"offset":1,"color":"#fff"}]}},
      "value": {"gradient": "linear", "x1": 0, "y1": 0, "x2": 0.176, "y2": 1.128, "stops": [{"offset":0,"color":"#fff"},{"offset":0.026,"color":"#000"},{"offset":0.053,"color":"#fff"},{"offset":0.079,"color":"#000"},{"offset":0.105,"color":"#fff"},{"offset":0.132,"color":"#000"},{"offset":0.158,"color":"#fff"},{"offset":0.184,"color":"#000"},{"offset":0.211,"color":"#fff"},{"offset":0.237,"color":"#000"},{"offset":0.263,"color":"#fff"},{"offset":0.289,"color":"#000"},{"offset":0.316,"color":"#fff"},{"offset":0.342,"color":"#000"},{"offset":0.368,"color":"#fff"},{"offset":0.395,"color":"#000"},{"offset":0.421,"color":"#fff"},{"offset":0.447,"color":"#000"},{"offset":0.474,"color":"#fff"},{"offset":0.5,"color":"#000"},{"offset":0.526,"color":"#fff"},{"offset":0.553,"color":"#000"},{"offset":0.579,"color":"#fff"},{"offset":0.605,"color":"#000"},{"offset":0.632,"color":"#fff"},{"offset":0.658,"color":"#000"},{"offset":0.684,"color":"#fff"},{"offset":0.711,"color":"#000"},{"offset":0.737,"color":"#fff"},{"offset":0.763,"color":"#000"},{"offset":0.789,"color":"#fff"},{"offset":0.816,"color":"#000"},{"offset":0.842,"color":"#fff"},{"offset":0.868,"color":"#000"},{"offset":0.895,"color":"#fff"},{"offset":0.921,"color":"#000"},{"offset":0.947,"color":"#fff"},{"offset":0.974,"color":"#000"},{"offset":1,"color":"#fff"}]}}}},
   {"mark": {"type": "bar", "fillOpacity": 0, "stroke": "black", "strokeWidth": 1.5},
    "encoding": {"x": {"field": "group", "type": "nominal", "axis": null}, "xOffset": {"field": "line", "type": "nominal"}, "y": {"field": "value", "type": "quantitative", "axis": null}}},
   {"mark": {"type": "rule", "strokeWidth": 1.5, "color": "black"},
    "encoding": {"x": {"field": "group", "type": "nominal", "axis": null}, "xOffset": {"field": "line", "type": "nominal"}, "y": {"field": "value", "type": "quantitative", "axis": null}, "y2": {"field": "hi"}}},
   {"mark": {"type": "tick", "size": 9, "thickness": 1.5, "color": "black"},
    "encoding": {"x": {"field": "group", "type": "nominal", "axis": null}, "xOffset": {"field": "line", "type": "nominal"}, "y": {"field": "hi", "type": "quantitative", "axis": null}}},
   {"mark": {"type": "text", "dy": -9, "baseline": "alphabetic", "font": "Liberation Sans", "fontWeight": "bold", "fontSize": 11, "color": "black"},
    "encoding": {"x": {"field": "group", "type": "nominal", "axis": {"orient": "top", "title": "CAT", "titlePadding": 9.9, "labels": false, "ticks": false, "domain": false, "grid": false, "titleFont": "Liberation Serif", "titleFontSize": 21, "titleFontWeight": "bold", "titleColor": "black", "minExtent": 0, "maxExtent": 0}}, "xOffset": {"field": "line", "type": "nominal"}, "y": {"field": "hi", "type": "quantitative", "axis": null}, "text": {"field": "letter"}}}
  ]}
]}
]
}
